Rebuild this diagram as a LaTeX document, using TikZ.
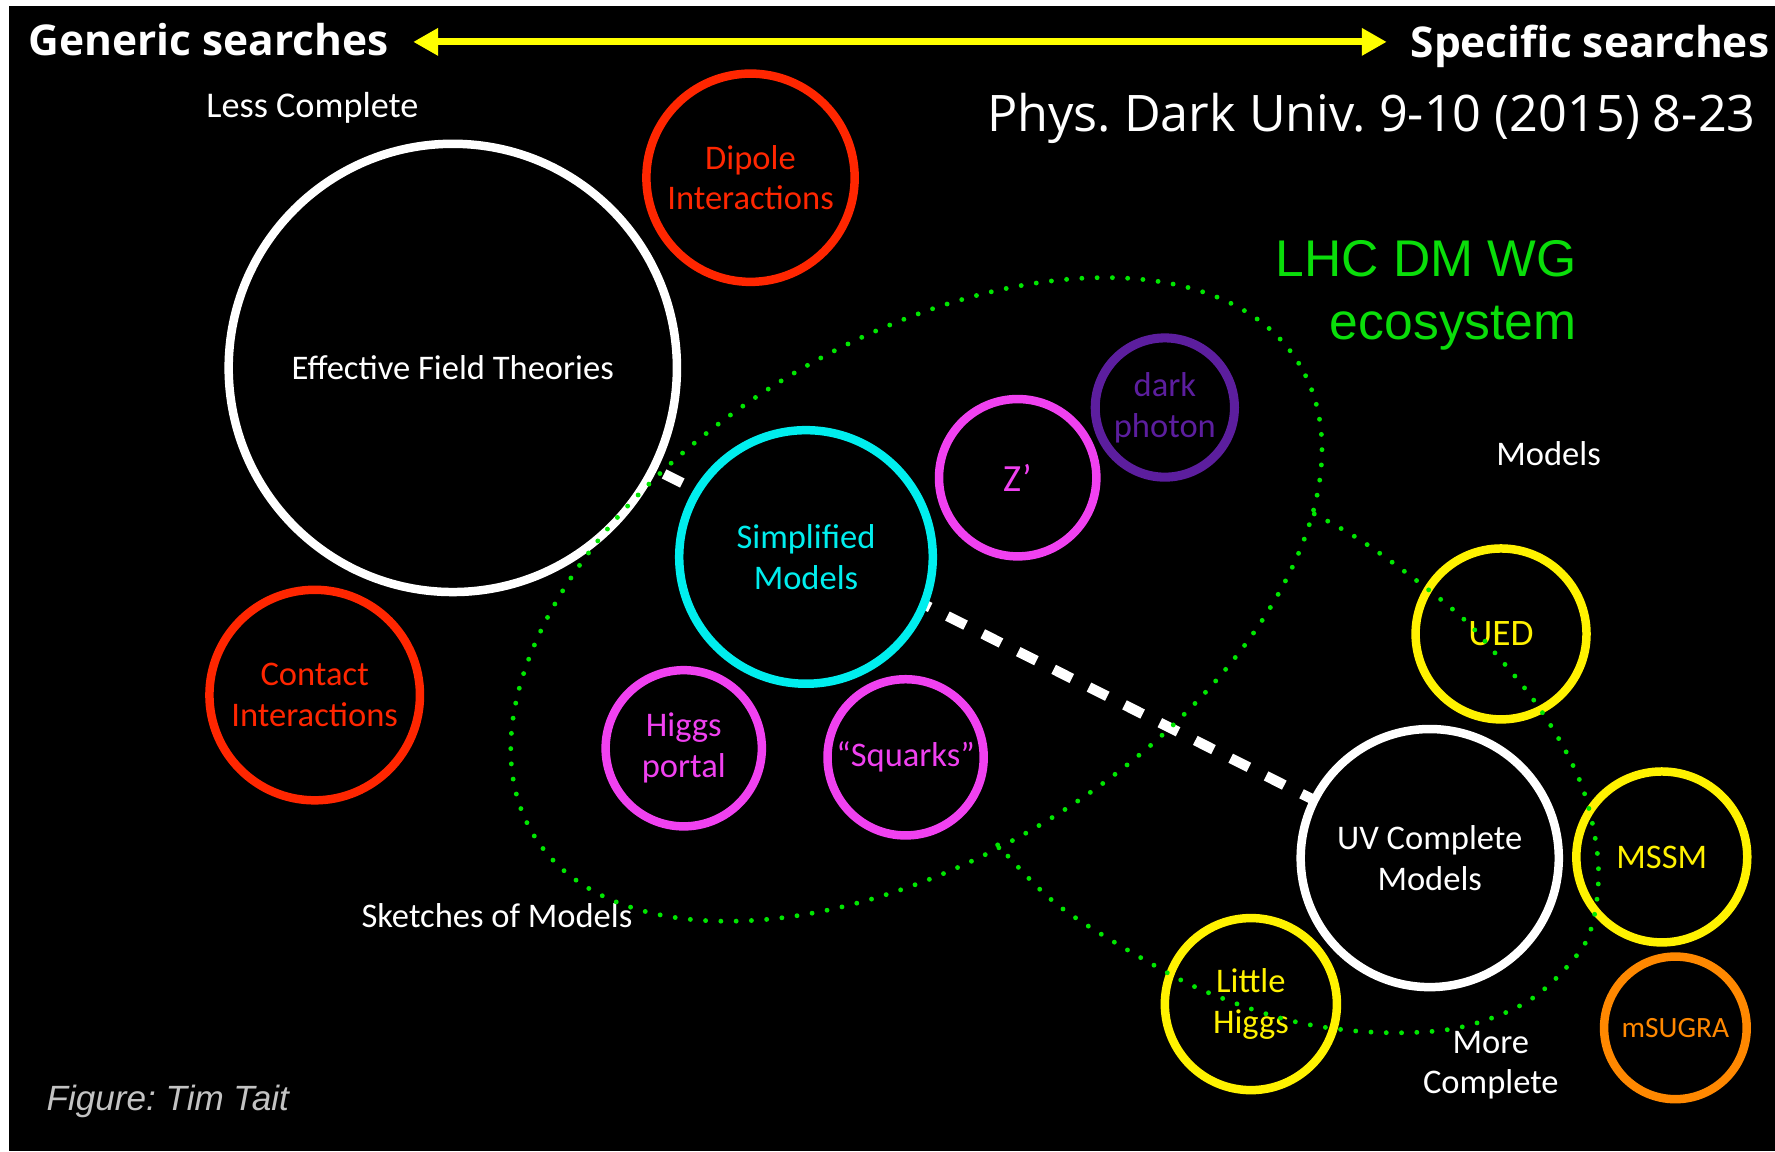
\documentclass[tikz,border=0pt]{standalone}
\usepackage{fontspec}
\setmainfont{Carlito}
\newfontfamily\yaheifont{Open Sans}
\newfontfamily\helvfont{Liberation Sans}
\usetikzlibrary{arrows.meta}
\definecolor{dmred}{RGB}{255,38,0}
\definecolor{dmcyan}{RGB}{0,238,238}
\definecolor{dmmag}{RGB}{240,65,240}
\definecolor{dmpurple}{RGB}{92,30,158}
\definecolor{dmyellow}{RGB}{255,242,0}
\definecolor{dmorange}{RGB}{255,136,0}
\definecolor{dmgreen}{RGB}{0,230,0}
\definecolor{lhcgreen}{RGB}{10,222,10}
\definecolor{arrowyellow}{RGB}{255,255,0}
\definecolor{figgray}{RGB}{195,195,195}
\newcommand\gilltext{\fontsize{30.5}{36}\selectfont}
\pgfdeclarelayer{bg}
\pgfsetlayers{bg,main}
\frenchspacing
\begin{document}
\frenchspacing
\begin{tikzpicture}[x=1pt,y=-1pt,
  bub/.style={circle, draw=#1, text=#1, fill=black, line width=7.5pt, align=center, inner sep=0pt, font=\gilltext},
  lab/.style={text=white, inner sep=0pt, font=\gilltext, align=center},
  toptext/.style={text=white, inner sep=0pt, font={\yaheifont\bfseries\fontsize{37.5}{40}\selectfont}},
  dots/.style={draw=dmgreen, line width=4.3pt, line cap=round, dash pattern=on 0pt off 13.5pt},
  dashline/.style={draw=white, line width=9pt, dash pattern=on 18pt off 17pt, dash phase=1.2pt},
  axisarrow/.style={draw=arrowyellow, line width=6pt, {Triangle[length=22pt,width=23pt]}-{Triangle[length=22pt,width=23pt]}}]
\useasboundingbox (0,0) rectangle (1568,1017);
\begin{pgfonlayer}{bg}
\fill[white] (0,0) rectangle (1568,1017);
\fill[black] (8,5) rectangle (1568,1017);
\end{pgfonlayer}

% header
\node[toptext, anchor=base west] (gen) at (25,49) {Generic searches};
\node[toptext, anchor=base east] (spec) at (1563,51) {Specific searches};
\coordinate (al) at (365,37);
\coordinate (ar) at (1225,37);
\draw[axisarrow] (al) -- (ar);
\node[text=white, inner sep=0pt, anchor=base east, font={\yaheifont\fontsize{44.5}{48}\selectfont}] (ref) at (1551,116) {Phys. Dark Univ. 9-10 (2015) 8-23};

% labels
\node[lab, anchor=base, font={\fontsize{32}{36}\selectfont}] (less) at (276,104) {Less Complete};
\node[inner sep=0pt, anchor=base east, text=lhcgreen, font={\helvfont\fontsize{45.6}{50}\selectfont}] (lhc) at (1393,244) {LHC DM WG};
\node[inner sep=0pt, anchor=base east, text=lhcgreen, font={\helvfont\fontsize{45.6}{50}\selectfont}] (eco) at (1393,300) {ecosystem};
\node[lab, anchor=base] (modlab) at (1368,411) {Models};
\node[lab, anchor=base] (sketch) at (439,819) {Sketches of Models};
\node[lab] (more) at (1317,941) {More\\Complete};
\node[inner sep=0pt, anchor=base west, text=figgray, font={\helvfont\itshape\fontsize{31}{36}\selectfont}] (fig) at (41,981) {Figure: Tim Tait};

% circles
\node[bub=dmred, minimum size=184pt] (dipole) at (663,157) {Dipole\\Interactions};
\node[bub=white, minimum size=396pt] (eft) at (400,325) {Effective Field Theories};
\node[bub=dmred, minimum size=186pt] (contact) at (278,614) {Contact\\Interactions};
\node[bub=dmcyan, minimum size=224pt] (simp) at (712,492) {Simplified\\Models};
\node[bub=dmmag, minimum size=139pt, font={\fontsize{34}{36}\selectfont}] (zp) at (899,422) {Z’};
\node[bub=dmpurple, minimum size=123pt, line width=8pt] (dark) at (1029,360) {dark\\photon};
\node[bub=dmmag, minimum size=138pt] (higgs) at (604,661) {Higgs\\portal};
\node[bub=dmmag, minimum size=138pt] (squarks) at (800,669) {“Squarks”};
\node[bub=white, minimum size=228pt] (uv) at (1263,758) {UV Complete\\Models};
\node[bub=dmyellow, minimum size=151pt, font={\fontsize{33}{36}\selectfont}] (ued) at (1326,560) {UED};
\node[bub=dmyellow, minimum size=151pt] (mssm) at (1468,757) {MSSM};
\node[bub=dmorange, minimum size=126pt, font={\fontsize{26}{30}\selectfont}] (msugra) at (1480,908) {mSUGRA};
\node[bub=dmyellow, minimum size=152pt] (lh) at (1105,887) {Little\\Higgs};

% dashed connector (under the circles)
\begin{pgfonlayer}{bg}
\draw[dashline] (eft.center) -- (uv.center);
\end{pgfonlayer}

% dotted ecosystems
\draw[dots, rotate around={31.7:(809.5,529.5)}] (809.5,529.5) ellipse [x radius=397pt, y radius=227pt];
\draw[dots] plot[smooth, tension=0.6] coordinates {(1161,454) (1200,476) (1245,508) (1291,545) (1320,576) (1356,620) (1386,669) (1403,712) (1412,766) (1407,815) (1392,845) (1352,883) (1300,905) (1250,912) (1190,910) (1130,899) (1063,875) (1013,849) (952,812) (919,786) (881,746)};
\end{tikzpicture}
\end{document}
